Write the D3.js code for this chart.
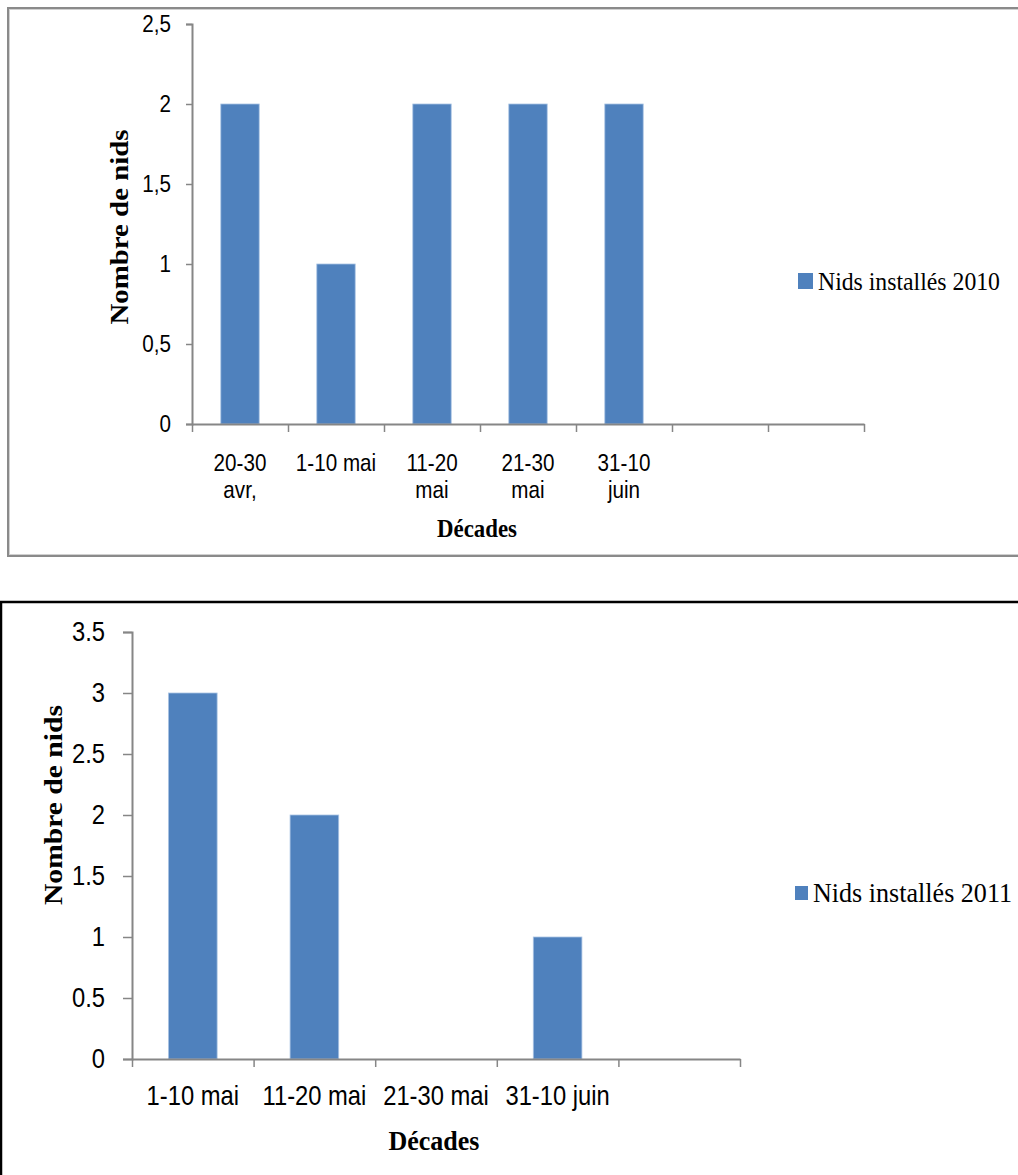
<!DOCTYPE html>
<html>
<head>
<meta charset="utf-8">
<script src="https://cdn.jsdelivr.net/npm/d3@7"></script>
<style>
  html, body { margin: 0; padding: 0; background: #fff; }
  svg { display: block; }
  .tick text { fill: #000; }
  .sans { font-family: "Liberation Sans", Arial, sans-serif; }
  .serif { font-family: "Liberation Serif", "Times New Roman", serif; }
</style>
</head>
<body>
<svg id="chart" width="1018" height="1175"></svg>
<script>
// ---- 2010 nests per ten-day period ----
const cats2010 = [["20-30", "avr,"], ["1-10 mai"], ["11-20", "mai"], ["21-30", "mai"], ["31-10", "juin"], [""], [""]];
const nests2010 = [2, 1, 2, 2, 2, null, null];
const yTicks2010 = [0, 0.5, 1, 1.5, 2, 2.5];
const legend2010 = "Nids installés 2010";

// ---- 2011 nests per ten-day period ----
const cats2011 = ["1-10 mai", "11-20 mai", "21-30 mai", "31-10 juin", ""];
const nests2011 = [3, 2, 0, 1, null];
const yTicks2011 = [0, 0.5, 1, 1.5, 2, 2.5, 3, 3.5];
const legend2011 = "Nids installés 2011";

const yTitle = "Nombre de nids";
const xTitle = "Décades";

const BAR = "#4F81BD";
const AXIS = "#868686";

const svg = d3.select("#chart");

function drawChart(cfg) {
  const g = svg.append("g");

  // outer frame
  g.append("rect")
    .attr("x", cfg.frame.x).attr("y", cfg.frame.y)
    .attr("width", cfg.frame.w).attr("height", cfg.frame.h)
    .attr("fill", "none")
    .attr("stroke", cfg.frame.color)
    .attr("stroke-width", cfg.frame.sw);
  if (cfg.frame.shadow) {
    g.append("rect")
      .attr("x", cfg.frame.x + 1.5).attr("y", cfg.frame.y + 1.5)
      .attr("width", cfg.frame.w - 3).attr("height", cfg.frame.h - 3)
      .attr("fill", "none")
      .attr("stroke", cfg.frame.shadow)
      .attr("stroke-width", 1);
  }

  const n = cfg.cats.length;
  const x = d3.scaleBand().domain(d3.range(n)).range([cfg.x0, cfg.x1]).padding(0);
  const xEdges = d3.scaleLinear().domain([0, n]).range([cfg.x0, cfg.x1]);
  const y = d3.scaleLinear().domain([0, cfg.yMax]).range([cfg.yBottom, cfg.yTop]);

  // bars
  const barW = x.bandwidth() * 0.4;
  g.append("g").selectAll("rect")
    .data(cfg.values.map((v, i) => ({ v, i })).filter(d => d.v))
    .join("rect")
    .attr("x", d => x(d.i) + (x.bandwidth() - barW) / 2)
    .attr("y", d => y(d.v))
    .attr("width", barW)
    .attr("height", d => y(0) - y(d.v))
    .attr("fill", BAR)
    .attr("stroke", "#a9c3e3")
    .attr("stroke-width", 0.8);

  // y axis
  const yAxis = g.append("g")
    .attr("transform", `translate(${cfg.x0},0)`)
    .call(d3.axisLeft(y).tickValues(cfg.yTicks).tickSize(cfg.yTickLen).tickPadding(cfg.yPad)
      .tickFormat(cfg.yFormat));
  yAxis.select(".domain").attr("stroke", AXIS).attr("stroke-width", 2);
  yAxis.selectAll(".tick line").attr("stroke", AXIS).attr("stroke-width", 1.5);
  yAxis.selectAll(".tick text")
    .attr("class", "sans")
    .attr("font-size", cfg.fs)
    .attr("x", 0)
    .attr("transform", `translate(${-(cfg.yTickLen + cfg.yPad)},0) scale(${cfg.sx},1)`);

  // x axis: ticks sit on category boundaries
  const xAxis = g.append("g")
    .attr("transform", `translate(0,${cfg.yBottom})`)
    .call(d3.axisBottom(xEdges).tickValues(d3.range(n + 1)).tickSize(cfg.xTickLen).tickSizeOuter(0).tickFormat(""));
  xAxis.select(".domain").attr("stroke", AXIS).attr("stroke-width", 2);
  xAxis.selectAll(".tick line").attr("stroke", AXIS).attr("stroke-width", 1.5);

  // category labels centred under each band
  const lab = g.append("g").attr("class", "sans").attr("font-size", cfg.fs).attr("text-anchor", "middle");
  cfg.cats.forEach((c, i) => {
    const lines = Array.isArray(c) ? c : [c];
    const t = lab.append("text")
      .attr("transform", `translate(${x(i) + x.bandwidth() / 2},${cfg.yBottom + cfg.labelDy}) scale(${cfg.sx},1)`);
    lines.forEach((s, k) => {
      t.append("tspan").attr("x", 0).attr("dy", k === 0 ? 0 : cfg.lineH).text(s);
    });
  });

  // axis titles
  g.append("text")
    .attr("class", "serif")
    .attr("font-weight", "bold")
    .attr("font-size", cfg.xTitle.fs)
    .attr("text-anchor", "middle")
    .attr("x", cfg.xTitle.x).attr("y", cfg.xTitle.y)
    .attr("textLength", cfg.xTitle.len)
    .attr("lengthAdjust", "spacingAndGlyphs")
    .text(xTitle);

  g.append("text")
    .attr("class", "serif")
    .attr("font-weight", "bold")
    .attr("font-size", cfg.yTitle.fs)
    .attr("text-anchor", "middle")
    .attr("transform", `translate(${cfg.yTitle.x},${cfg.yTitle.y}) rotate(-90)`)
    .attr("textLength", cfg.yTitle.len)
    .attr("lengthAdjust", "spacingAndGlyphs")
    .text(yTitle);

  // legend
  const lg = g.append("g").attr("transform", `translate(${cfg.legend.x},${cfg.legend.y})`);
  lg.append("rect").attr("x", 0).attr("y", -cfg.legend.sq / 2).attr("width", cfg.legend.sq - 1).attr("height", cfg.legend.sq).attr("fill", BAR);
  lg.append("text")
    .attr("class", "serif")
    .attr("font-size", cfg.legend.fs)
    .attr("x", cfg.legend.sq + 4)
    .attr("y", cfg.legend.fs * 0.33)
    .attr("textLength", cfg.legend.len)
    .attr("lengthAdjust", "spacingAndGlyphs")
    .text(cfg.legend.text);
}

drawChart({
  frame: { x: 8, y: 8, w: 1030, h: 548, color: "#8a8a8a", sw: 2, shadow: "#d0d0d0" },
  cats: cats2010, values: nests2010, yTicks: yTicks2010, yMax: 2.5,
  yFormat: d => String(d).replace(".", ","),
  x0: 192, x1: 864, yTop: 24, yBottom: 424,
  yTickLen: 6, yPad: 15, xTickLen: 8,
  fs: 24, sx: 0.86, labelDy: 47, lineH: 27,
  xTitle: { x: 477, y: 537, fs: 25, len: 80 },
  yTitle: { x: 128, y: 227, fs: 25, len: 195 },
  legend: { x: 798, y: 281, sq: 16, fs: 26, len: 182, text: legend2010 }
});

drawChart({
  frame: { x: 1, y: 602, w: 1040, h: 620, color: "#000", sw: 2.5 },
  cats: cats2011, values: nests2011, yTicks: yTicks2011, yMax: 3.5,
  yFormat: d => String(d),
  x0: 132, x1: 740, yTop: 632, yBottom: 1059,
  yTickLen: 9, yPad: 18, xTickLen: 8,
  fs: 27, sx: 0.88, labelDy: 46, lineH: 27,
  xTitle: { x: 434, y: 1150, fs: 27, len: 91 },
  yTitle: { x: 62, y: 805, fs: 26, len: 200 },
  legend: { x: 795, y: 893, sq: 14, fs: 27, len: 199, text: legend2011 }
});
</script>
</body>
</html>
